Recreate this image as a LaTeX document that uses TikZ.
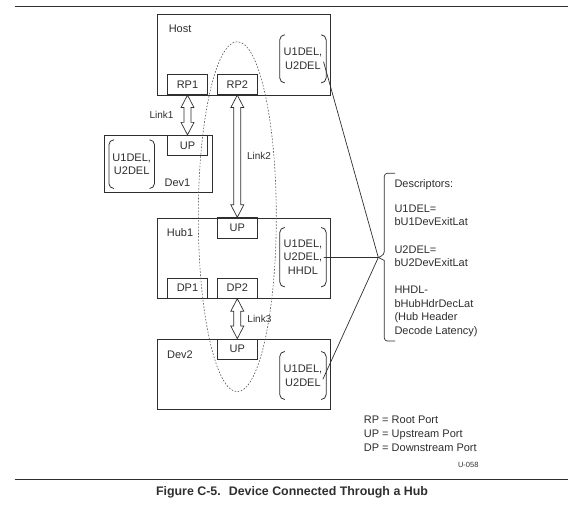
\documentclass[tikz,border=0pt]{standalone}
\usepackage{fontspec}
\setmainfont{Liberation Sans}
\usetikzlibrary{calc,shapes.geometric}
\definecolor{ink}{gray}{0.18}
\tikzset{
  every node/.style={text=ink, inner sep=0pt},
  devbox/.style={draw=ink, line width=0.8pt, rectangle, anchor=north west, minimum width=172.7pt},
  portbox/.style={draw=ink, line width=0.8pt, rectangle, minimum width=39.5pt, minimum height=20.3pt, font=\fontsize{11}{13}\selectfont},
  lbl/.style={font=\fontsize{11}{13}\selectfont},
  linklbl/.style={font=\fontsize{10}{12}\selectfont},
  delnode/.style={align=center, font=\fontsize{11}{13.6}\selectfont, minimum width=46pt},
  bracketline/.style={draw=ink, line width=0.8pt, rounded corners=5pt},
  blockarrow/.style={draw=ink, line width=0.7pt, line join=miter},
  conn/.style={draw=ink, line width=0.7pt},
  loopline/.style={draw=ink!80, line width=0.6pt, dash pattern=on 1.6pt off 1.6pt},
  rulebar/.style={draw=ink, line width=1.2pt},
}
\newcommand\dblarrow[2]{%
  \draw[blockarrow] (#1) -- ++(6.5,12.5) -- ++(-3,0) -- ($(#2)+(3.5,-12.5)$) -- ++(3,0) -- (#2)
    -- ++(-6.5,-12.5) -- ++(3,0) -- ($(#1)+(-3.5,12.5)$) -- ++(-3,0) -- cycle;}
\newcommand\delparens[1]{%
  \draw[bracketline] ([xshift=5pt]#1.north west) -- (#1.north west) -- (#1.south west) -- ([xshift=5pt]#1.south west);
  \draw[bracketline] ([xshift=-5pt]#1.north east) -- (#1.north east) -- (#1.south east) -- ([xshift=-5pt]#1.south east);}
\begin{document}
\begin{tikzpicture}[x=1pt, y=-1pt]
\useasboundingbox (0,0) rectangle (576,521);
% rules
\draw[rulebar] (14.7,6.6) -- (567.6,6.6);
\draw[rulebar] (14.7,479.3) -- (567.6,479.3);
% boxes
\node[devbox, minimum height=80.4pt] (host) at (157.2,14.3) {};
\node[devbox, minimum height=80.6pt] (hub) at (157.2,217.7) {};
\node[devbox, minimum height=70.3pt] (dev2) at (157.2,339) {};
\node[devbox, minimum width=108.3pt, minimum height=57pt] (dev1) at (104,135.3) {};
% box labels
\node[lbl, anchor=west] (hostlbl) at (168.6,29) {Host};
\node[lbl] (hublbl) at (180,232.3) {Hub1};
\node[lbl] (dev1lbl) at (177.4,182.7) {Dev1};
\node[lbl] (dev2lbl) at (180,355) {Dev2};
% ports
\node[portbox] (rp1) at (187.5,84.55) {RP1};
\node[portbox] (rp2) at (237.3,84.55) {RP2};
\node[portbox] (dev1up) at (187.5,145.45) {UP};
\node[portbox] (hubup) at (237.3,227.85) {UP};
\node[portbox] (dp1) at (187.5,288.15) {DP1};
\node[portbox] (dp2) at (237.3,288.15) {DP2};
\node[portbox] (dev2up) at (237.3,349.15) {UP};
% delay groups
\node[delnode, minimum height=47.7pt] (hostdel) at (302.95,58.85) {U1DEL,\\U2DEL};
\node[delnode, minimum height=48.3pt, minimum width=45.2pt] (dev1del) at (131.7,164.15) {U1DEL,\\U2DEL};
\node[delnode, minimum height=59pt] (hubdel) at (302.95,257.2) {U1DEL,\\U2DEL,\\HHDL};
\node[delnode, minimum height=47.6pt] (dev2del) at (302.95,375.5) {U1DEL,\\U2DEL};
\delparens{hostdel}
\delparens{dev1del}
\delparens{hubdel}
\delparens{dev2del}
% links
\dblarrow{rp1.south}{dev1up.north}
\dblarrow{rp2.south}{hubup.north}
\dblarrow{dp2.south}{dev2up.north}
\node[linklbl] (link1) at (161.6,115) {Link1};
\node[linklbl] (link2) at (259,155.7) {Link2};
\node[linklbl] (link3) at (259.4,319) {Link3};
% dashed loop
\node[loopline, ellipse, minimum width=78pt, minimum height=350pt] (loop) at (237.3,216.7) {};
% descriptor connectors
\coordinate (tip) at (378.3,257.5);
\coordinate (hostlnk) at ($(hostdel.east)+(-2.6,2.9)$);
\coordinate (hublnk) at ($(hubdel.east)+(-2.6,0.2)$);
\coordinate (dev2lnk) at ($(dev2del.east)+(-3.3,3.8)$);
\draw[conn] (hostlnk) -- (tip);
\draw[conn] (hublnk) -- (tip);
\draw[conn] (dev2lnk) -- (tip);
\draw[conn] (395,173.3) [rounded corners=3pt]-- (384.3,173.3) -- (384.3,254.5) [sharp corners]-- (tip) -- (384.3,260.5) [rounded corners=3pt]-- (384.3,341) -- (395,341);
% descriptor text
\node[lbl, anchor=west] (desc0) at (394.3,185) {Descriptors:};
\node[lbl, anchor=west, align=left, font=\fontsize{11}{12.9}\selectfont] (desc1) at (394.3,215.35) {U1DEL=\\bU1DevExitLat};
\node[lbl, anchor=west, align=left, font=\fontsize{11}{13.4}\selectfont] (desc2) at (394.3,256) {U2DEL=\\bU2DevExitLat};
\node[lbl, anchor=west, align=left, font=\fontsize{11}{13.6}\selectfont] (desc3) at (394.3,311.35) {HHDL-\\bHubHdrDecLat\\(Hub Header\\Decode Latency)};
% legend
\node[lbl, anchor=west, align=left, font=\fontsize{11}{13.85}\selectfont] (legend) at (363.7,434) {RP = Root Port\\UP = Upstream Port\\DP = Downstream Port};
\node[anchor=east, font=\fontsize{7.5}{9}\selectfont] (figid) at (478.7,465) {U-058};
% caption
\node[font=\bfseries\fontsize{12.4}{15}\selectfont] (caption) at (292,492.7) {Figure C-5.~ Device Connected Through a Hub};
\end{tikzpicture}
\end{document}
